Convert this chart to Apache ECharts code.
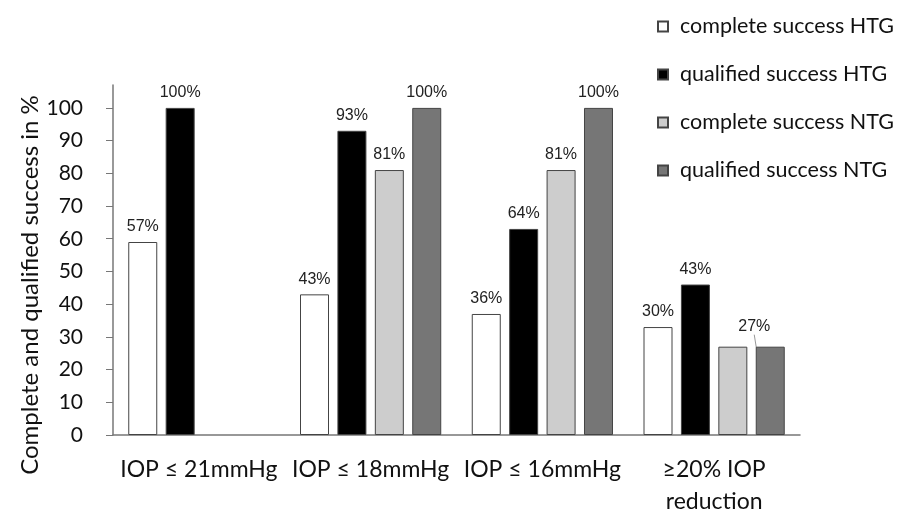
<!DOCTYPE html>
<html>
<head>
<meta charset="utf-8">
<script src="https://cdn.jsdelivr.net/npm/echarts@6/dist/echarts.min.js"></script>
<style>html,body{margin:0;padding:0;background:#fff;}#c{width:903px;height:510px;}</style>
</head>
<body>
<div id="c"></div>
<script>
const categories = ['IOP ≤ 21mmHg', 'IOP ≤ 18mmHg', 'IOP ≤ 16mmHg', '≥20% IOP\nreduction'];
const seriesNames = ['complete success HTG', 'qualified success HTG', 'complete success NTG', 'qualified success NTG'];
const completeHTG = [59, 43, 37, 33];
const qualifiedHTG = [100, 93, 63, 46];
const completeNTG = [null, 81, 81, 27];
const qualifiedNTG = [null, 100, 100, 27];
const labelsCompleteHTG = ['57%', '43%', '36%', '30%'];
const labelsQualifiedHTG = ['100%', '93%', '64%', '43%'];
const labelsCompleteNTG = [null, '81%', '81%', null];
const labelsQualifiedNTG = [null, '100%', '100%', '27%'];
const yTicks = [0, 10, 20, 30, 40, 50, 60, 70, 80, 90, 100];
const yTitle = 'Complete and qualified success in %';

const colors = ['#ffffff', '#000000', '#cdcdcd', '#767676'];
const values = [completeHTG, qualifiedHTG, completeNTG, qualifiedNTG];
const labels = [labelsCompleteHTG, labelsQualifiedHTG, labelsCompleteNTG, labelsQualifiedNTG];

const chart = echarts.init(document.getElementById('c'));
const series = values.map((vals, si) => ({
  name: seriesNames[si],
  type: 'bar',
  barWidth: 29,
  barGap: '29%',
  data: vals.map((v, i) => ({
    value: v,
    label: { show: labels[si][i] != null, formatter: labels[si][i] || '' },
    labelLine: { show: si === 3 && i === 3, lineStyle: { color: '#999', width: 1 } }
  })),
  itemStyle: { color: colors[si], borderColor: '#444', borderWidth: 1 },
  label: {
    position: 'top', distance: 7,
    fontFamily: 'Liberation Sans', fontSize: 16, color: '#222'
  },
  labelLayout: si === 3 ? function (p) { return p.dataIndex === 3 ? { dx: -16, dy: -5 } : {}; } : undefined,
  emphasis: { disabled: true }
}));

chart.setOption({
  animation: false,
  backgroundColor: '#fff',
  grid: { left: 113, right: 103, top: 85, bottom: 75, containLabel: false, outerBoundsMode: 'none' },
  legend: {
    orient: 'vertical', left: 652, top: 9,
    icon: 'rect', itemWidth: 10, itemHeight: 10, itemGap: 23,
    textStyle: { fontFamily: 'Lato', fontSize: 21.5, color: '#111', lineHeight: 25, padding: [0, 0, 0, 7] },
    data: seriesNames
  },
  xAxis: {
    type: 'category', data: categories,
    axisLine: { lineStyle: { color: '#777', width: 1.5 } },
    axisTick: { show: false },
    axisLabel: { fontFamily: 'Lato', fontSize: 23, color: '#111', margin: 19, lineHeight: 32, interval: 0 }
  },
  yAxis: {
    type: 'value', min: 0, max: 107,
    splitLine: { show: false },
    axisLine: { show: true, lineStyle: { color: '#777', width: 1.5 } },
    axisTick: { show: true, length: 7, customValues: yTicks, lineStyle: { color: '#777' } },
    axisLabel: { fontFamily: 'Lato', fontSize: 21, color: '#111', margin: 30, customValues: yTicks }
  },
  graphic: [{
    type: 'text', x: 30, y: 285, rotation: Math.PI / 2,
    style: { text: yTitle, fontFamily: 'Lato', fontSize: 24, fill: '#111', align: 'center', verticalAlign: 'middle' }
  }],
  series: series
});
</script>
</body>
</html>
